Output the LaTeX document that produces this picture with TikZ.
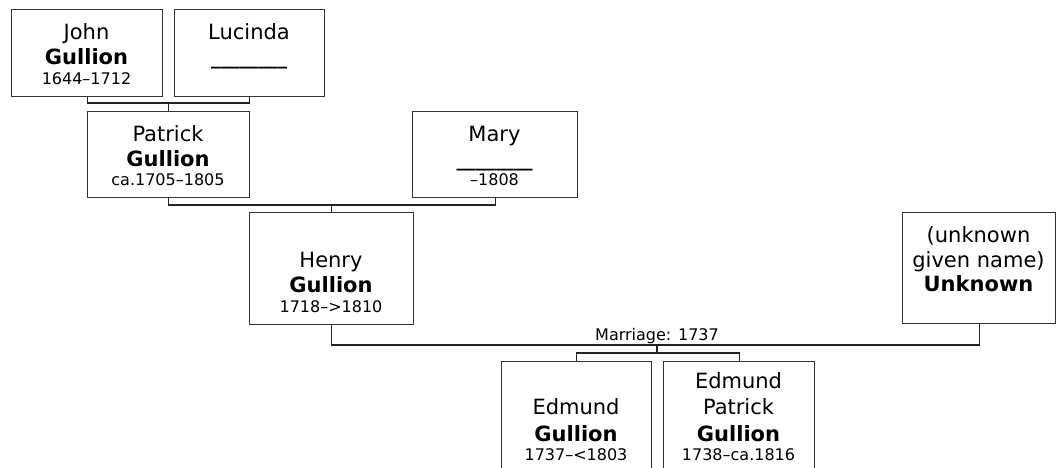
\documentclass[tikz,border=0pt]{standalone}
\usepackage{fontspec}
\setmainfont{DejaVu Sans}
\definecolor{boxc}{HTML}{333333}
\definecolor{linec}{HTML}{222222}
\tikzset{
  pbox/.style={draw=boxc, line width=1.4pt, rectangle, inner sep=0pt, anchor=north west, fill=white},
  conn/.style={draw=linec, line width=1.2pt},
  nm/.style={anchor=base, inner sep=0pt, font=\fontsize{21}{25}\selectfont},
  sn/.style={anchor=base, inner sep=0pt, font=\fontsize{21}{25}\selectfont\bfseries},
  dt/.style={anchor=base, inner sep=0pt, font=\fontsize{16}{19}\selectfont},
  ul/.style={anchor=base, inner sep=0pt, font=\fontsize{19}{19}\selectfont\bfseries},
}
\begin{document}
\begin{tikzpicture}[x=1pt,y=-1pt]
\useasboundingbox (0,0) rectangle (1056,467);
\clip (0,0) rectangle (1056,467);
% boxes
\node[pbox, minimum width=151pt, minimum height=87pt] (john) at (11,9) {};
\node[pbox, minimum width=150pt, minimum height=87pt] (lucinda) at (174,9) {};
\node[pbox, minimum width=162pt, minimum height=86pt] (patrick) at (87,111) {};
\node[pbox, minimum width=165pt, minimum height=86pt] (mary) at (412,111) {};
\node[pbox, minimum width=164pt, minimum height=112pt] (henry) at (249,212) {};
\node[pbox, minimum width=153pt, minimum height=111pt] (unknown) at (902,212) {};
\node[pbox, minimum width=150pt, minimum height=125pt] (edmund) at (501,361) {};
\node[pbox, minimum width=151pt, minimum height=125pt] (edpat) at (663,361) {};
% texts
\node[nm] (johnA) at (86.5,39) {John};
\node[sn] (johnB) at (86.5,64) {Gullion};
\node[dt] (johnC) at (86.5,84) {1644–1712};
\node[nm] (lucA) at (249,39) {Lucinda};
\node[ul] (lucB) at (249,64) {\_\_\_\_\_\_\_\_};
\node[nm] (patA) at (168,141) {Patrick};
\node[sn] (patB) at (168,166) {Gullion};
\node[dt] (patC) at (168,185) {ca.1705–1805};
\node[nm] (maryA) at (494.5,141) {Mary};
\node[ul] (maryB) at (494.5,166) {\_\_\_\_\_\_\_\_};
\node[dt] (maryC) at (494.5,185) {–1808};
\node[nm] (henA) at (331,267) {Henry};
\node[sn] (henB) at (331,292.5) {Gullion};
\node[dt] (henC) at (331,312) {1718–>1810};
\node[nm] (unkA) at (978.5,242) {(unknown};
\node[nm] (unkB) at (978.5,267) {given name)};
\node[sn] (unkC) at (978.5,291.5) {Unknown};
\node[nm] (edA) at (576,414) {Edmund};
\node[sn] (edB) at (576,441) {Gullion};
\node[dt] (edC) at (576,460) {1737–<1803};
\node[nm] (epA) at (738.5,388) {Edmund};
\node[nm] (epB) at (738.5,414) {Patrick};
\node[sn] (epC) at (738.5,441) {Gullion};
\node[dt] (epD) at (738.5,460) {1738–ca.1816};
\node[dt] (mlabel) at (657,340) {Marriage: 1737};
% connector levels
\coordinate (jlbar) at (0,103);
\coordinate (pmbar) at (0,205);
\coordinate (mbar) at (0,345);
\coordinate (cbar) at (0,353);
\coordinate (mmid) at (657,345);
% connectors
\draw[conn] (john.south) -- (john.south |- jlbar) -- (lucinda.south |- jlbar) -- (lucinda.south);
\draw[conn] (patrick.north) -- (patrick.north |- jlbar);
\draw[conn] (patrick.south) -- (patrick.south |- pmbar) -- (mary.south |- pmbar) -- (mary.south);
\draw[conn] (henry.north) -- (henry.north |- pmbar);
\draw[conn] (henry.south) -- (henry.south |- mbar) -- (unknown.south |- mbar) -- (unknown.south);
\draw[conn] (mmid) -- (mmid |- cbar);
\draw[conn] (edmund.north) -- (edmund.north |- cbar) -- (edpat.north |- cbar) -- (edpat.north);
\end{tikzpicture}
\end{document}
